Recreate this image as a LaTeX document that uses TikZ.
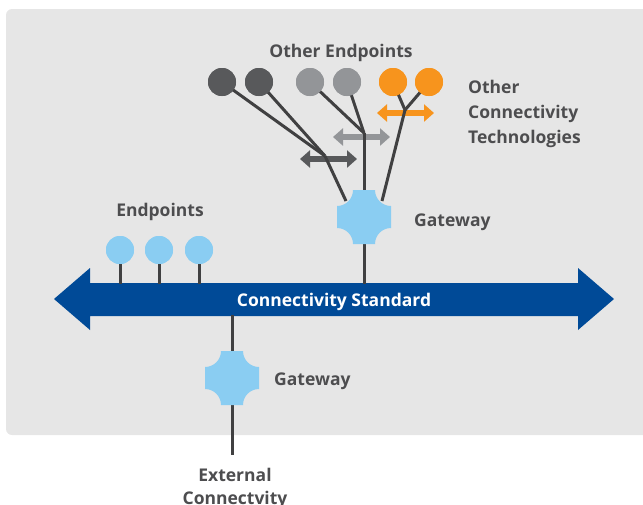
\documentclass[tikz,border=0pt]{standalone}
\usepackage{fontspec}
\setmainfont{Open Sans}
\usetikzlibrary{arrows.meta}
\definecolor{bgc}{HTML}{E6E6E6}
\definecolor{busc}{HTML}{004A97}
\definecolor{lblue}{HTML}{8ACDF2}
\definecolor{dgray}{HTML}{58595B}
\definecolor{mgray}{HTML}{939598}
\definecolor{orng}{HTML}{F7941D}
\definecolor{linec}{HTML}{404041}
\definecolor{textc}{HTML}{4D4D4F}
\newcommand\gwshape[2]{%
  \fill[lblue] (#1-11,#2-27) -- (#1+11,#2-27) arc[start angle=180,end angle=90,radius=16]
    -- (#1+27,#2+11) arc[start angle=270,end angle=180,radius=16]
    -- (#1-11,#2+27) arc[start angle=0,end angle=-90,radius=16]
    -- (#1-27,#2-11) arc[start angle=90,end angle=0,radius=16] -- cycle;}
\tikzset{
  conn/.style={draw=linec, line width=3pt},
  ep/.style={circle, minimum size=28pt, inner sep=0pt, fill=#1},
  lbl/.style={text=textc, font=\bfseries\fontsize{17.5}{25}\selectfont, inner sep=0pt},
  gwbox/.style={minimum size=54pt, inner sep=0pt},
  dbl/.style={line width=6pt, draw=#1, {Triangle[width=17pt,length=10pt]}-{Triangle[width=17pt,length=10pt]}}
}
\begin{document}
\begin{tikzpicture}[x=1pt,y=-1pt]
\useasboundingbox (0,0) rectangle (643,504);
\clip (0,0) rectangle (643,504);
% background panel
\fill[bgc, rounded corners=6pt] (6,9) rectangle (660,435);
% bus
\fill[busc] (54,299) -- (90,268) -- (90,283) -- (578,283) -- (578,268) -- (614,299)
  -- (578,330) -- (578,316) -- (90,316) -- (90,330) -- cycle;
\node[inner sep=0pt, text=white, font=\bfseries\fontsize{17.5}{20}\selectfont, anchor=base] (bus) at (334,306) {Connectivity Standard};
% nodes
\node[ep=dgray] (c1) at (222,82) {};
\node[ep=dgray] (c2) at (259,82) {};
\node[ep=mgray] (c3) at (310,82) {};
\node[ep=mgray] (c4) at (347,82) {};
\node[ep=orng] (c5) at (393,82) {};
\node[ep=orng] (c6) at (429,82) {};
\node[ep=lblue] (e1) at (120,250) {};
\node[ep=lblue] (e2) at (159,250) {};
\node[ep=lblue] (e3) at (199,250) {};
\node[gwbox] (gw1) at (364,217) {};
\node[gwbox] (gw2) at (232,378) {};
\coordinate (m1) at (325,156);
\coordinate (m2) at (364,133);
\coordinate (m3) at (405,110);
\coordinate (gA) at (346,201);
\coordinate (gC) at (382,201);
\coordinate (bt1) at (364,284);
\coordinate (bt2) at (120,284);
\coordinate (bt3) at (159,284);
\coordinate (bt4) at (199,284);
\coordinate (bb1) at (232,315);
\coordinate (ext) at (232,455);
% small double arrows
\draw[dbl=dgray] (300,159) -- (357,159);
\draw[dbl=mgray] (333,137) -- (390,137);
\draw[dbl=orng] (377,113) -- (434,113);
% connectors
\draw[conn] (c1.center) -- (m1);
\draw[conn] (c2.center) -- (m1);
\draw[conn] (m1) -- (gA);
\draw[conn] (c3.center) -- (m2);
\draw[conn] (c4.center) -- (m2);
\draw[conn] (m2) -- (gw1.center);
\draw[conn] (c5.center) -- (m3);
\draw[conn] (c6.center) -- (m3);
\draw[conn] (m3) -- (gC);
\draw[conn] (gw1.center) -- (bt1);
\draw[conn] (e1.center) -- (bt2);
\draw[conn] (e2.center) -- (bt3);
\draw[conn] (e3.center) -- (bt4);
\draw[conn] (bb1) -- (ext);
% redraw circles on top
\foreach \n/\c in {c1/dgray,c2/dgray,c3/mgray,c4/mgray,c5/orng,c6/orng,e1/lblue,e2/lblue,e3/lblue}
  \fill[\c] (\n.center) circle[radius=14];
\gwshape{364}{217}
\gwshape{232}{378}
% labels
\node[lbl, anchor=base] (t1) at (341,57) {Other Endpoints};
\node[lbl, anchor=base] (t2) at (160,216) {Endpoints};
\node[lbl, anchor=north west, align=left] (t3) at (468,80) {Other\\Connectivity\\Technologies};
\node[lbl, anchor=base west] (t4) at (414,226) {Gateway};
\node[lbl, anchor=base west] (t5) at (274,385) {Gateway};
\node[lbl, anchor=north, align=center, font=\bfseries\fontsize{17.5}{23}\selectfont] (t6) at (235,468) {External\\Connectvity};
\end{tikzpicture}
\end{document}
